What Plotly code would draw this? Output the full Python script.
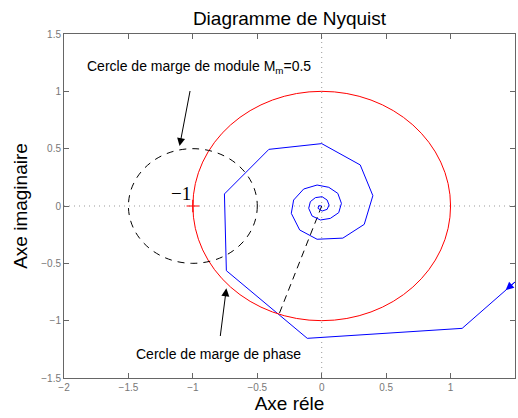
import plotly.graph_objects as go

# Nyquist locus
re_vals = [1.9, 1.09, -0.112, -0.740, -0.755, -0.410, 0.0, 0.299, 0.397, 0.330, 0.164,
           -0.036, -0.171, -0.236, -0.218, -0.140, -0.036, 0.055, 0.125, 0.153, 0.132,
           0.067, -0.010, -0.075, -0.101, -0.088, -0.049, 0.003, 0.042, 0.057, 0.042,
           0.003, -0.029, -0.023, 0.0]
im_vals = [-0.27, -1.067, -1.154, -0.564, 0.105, 0.494, 0.544, 0.358, 0.090, -0.160, -0.280,
           -0.290, -0.209, -0.064, 0.052, 0.148, 0.183, 0.163, 0.110, 0.023, -0.058,
           -0.108, -0.122, -0.087, -0.020, 0.038, 0.073, 0.081, 0.052, 0.009, -0.029,
           -0.044, -0.020, 0.003, 0.0]

# circles
unit_center = (0.0, 0.0)
unit_radius = 1.0
mod_center = (-1.0, 0.0)
mod_radius = 0.5

# phase margin segment
pm_x = [0.0, -0.33]
pm_y = [0.0, -0.94]

# critical point
crit_x = [-1.0]
crit_y = [0.0]

x_ticks = [-2, -1.5, -1, -0.5, 0, 0.5, 1, 1.5]
x_labels = ["\u22122", "\u22121.5", "\u22121", "\u22120.5", "0", "0.5", "1", "1.5"]
y_ticks = [-1.5, -1, -0.5, 0, 0.5, 1, 1.5]
y_labels = ["\u22121.5", "\u22121", "\u22120.5", "0", "0.5", "1", "1.5"]

fig = go.Figure()

fig.add_trace(go.Scatter(x=pm_x, y=pm_y, mode="lines",
                         line=dict(color="black", width=1, dash="7px,5px"),
                         hoverinfo="skip"))
fig.add_trace(go.Scatter(x=re_vals, y=im_vals, mode="lines",
                         line=dict(color="#0000ff", width=1)))
fig.add_trace(go.Scatter(x=crit_x, y=crit_y, mode="markers",
                         marker=dict(symbol="cross-thin", size=9,
                                     line=dict(color="red", width=1.2))))

shapes = [
    dict(type="line", xref="x", yref="y", x0=0, x1=0, y0=-1.5, y1=1.5,
         line=dict(color="#999999", width=1, dash="1px,4px"), layer="below"),
    dict(type="line", xref="x", yref="y", x0=-2, x1=1.5, y0=0, y1=0,
         line=dict(color="#999999", width=1, dash="1px,4px"), layer="below"),
    dict(type="circle", xref="x", yref="y",
         x0=unit_center[0] - unit_radius, x1=unit_center[0] + unit_radius,
         y0=unit_center[1] - unit_radius, y1=unit_center[1] + unit_radius,
         line=dict(color="red", width=1)),
    dict(type="circle", xref="x", yref="y",
         x0=mod_center[0] - mod_radius, x1=mod_center[0] + mod_radius,
         y0=mod_center[1] - mod_radius, y1=mod_center[1] + mod_radius,
         line=dict(color="black", width=1, dash="7px,6px")),
]

font_sans = "Liberation Sans, Arial, sans-serif"
annotations = [
    dict(x=-1.103, y=0.523, ax=-1.007, ay=1.09, axref="x", ayref="y", xref="x", yref="y",
         showarrow=True, arrowhead=2, arrowsize=1.6, arrowwidth=1, arrowcolor="black", text=" "),
    dict(x=-0.740, y=-0.718, ax=-0.797, ay=-1.221, axref="x", ayref="y", xref="x", yref="y",
         showarrow=True, arrowhead=2, arrowsize=1.6, arrowwidth=1, arrowcolor="black", text=" "),
    dict(x=1.428, y=-0.733, ax=1.52, ay=-0.642, axref="x", ayref="y", xref="x", yref="y",
         showarrow=True, arrowhead=2, arrowsize=1.6, arrowwidth=1, arrowcolor="#0000ff", text=" "),
    dict(x=-1.835, y=1.21, xref="x", yref="y", xanchor="left", yanchor="middle",
         showarrow=False, text="Cercle de marge de module M<sub>m</sub>=0.5",
         font=dict(family=font_sans, size=14, color="black")),
    dict(x=-1.46, y=-1.293, xref="x", yref="y", xanchor="left", yanchor="middle",
         showarrow=False, text="Cercle de marge de phase",
         font=dict(family=font_sans, size=14, color="black")),
    dict(x=-1.0, y=0.105, xref="x", yref="y", xanchor="right", yanchor="middle",
         showarrow=False, text="\u22121",
         font=dict(family="Liberation Serif, Times New Roman, serif", size=19, color="black")),
]

axis_common = dict(showgrid=False, zeroline=False, showline=True, linecolor="#666666",
                   linewidth=1, mirror="ticks", ticks="inside", ticklen=5,
                   tickcolor="#666666", tickfont=dict(family=font_sans, size=10, color="#777777"))

fig.update_layout(
    width=518, height=418,
    margin=dict(l=64, r=3, t=34, b=40),
    paper_bgcolor="white", plot_bgcolor="white",
    showlegend=False,
    title=dict(text="Diagramme de Nyquist", x=0.5, xanchor="center", xref="paper",
               y=0.955, yanchor="middle", font=dict(family=font_sans, size=19, color="black")),
    xaxis=dict(range=[-2, 1.5], tickvals=x_ticks, ticktext=x_labels,
               title=dict(text="Axe réle", font=dict(family=font_sans, size=19, color="black"),
                          standoff=4),
               **axis_common),
    yaxis=dict(range=[-1.5, 1.5], tickvals=y_ticks, ticktext=y_labels,
               title=dict(text="Axe imaginaire", font=dict(family=font_sans, size=19, color="black"),
                          standoff=8),
               **axis_common),
    shapes=shapes,
    annotations=annotations,
)

fig.write_html("out.html")
